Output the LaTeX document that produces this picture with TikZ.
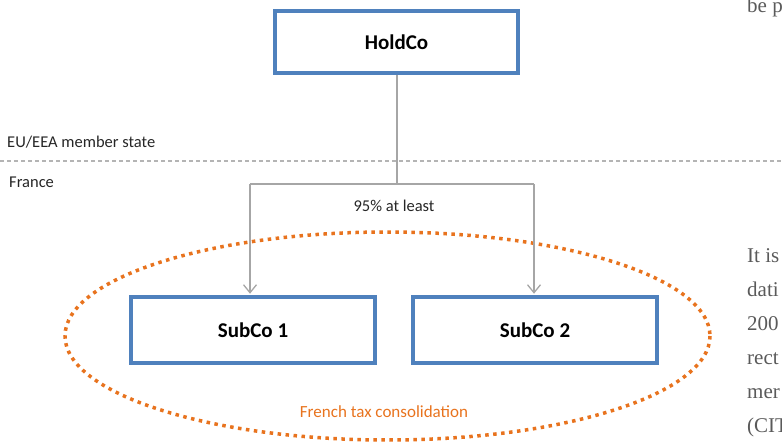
\documentclass[tikz,border=0pt]{standalone}
\usepackage{fontspec}
\setmainfont{Carlito}
\newfontfamily\webserif{Liberation Serif}
\usetikzlibrary{arrows.meta}
\definecolor{boxblue}{HTML}{4F81BD}
\definecolor{linegray}{HTML}{A6A6A6}
\definecolor{dashgray}{HTML}{B4B4B4}
\definecolor{orangedot}{HTML}{E8731E}
\definecolor{webgray}{HTML}{5A5A5A}
\begin{document}
\begin{tikzpicture}[x=1pt,y=-1pt,
  entity/.style={draw=boxblue, line width=3.5pt, fill=white, minimum width=244pt, minimum height=66pt,
    font=\fontsize{21}{24}\selectfont\bfseries, inner sep=0pt},
  link/.style={draw=linegray, line width=1.5pt},
  arr/.style={link, -{Straight Barb[length=8pt,width=13pt,line width=1.3pt]}, shorten >=1.5pt},
  lbl/.style={font=\fontsize{16.5}{20}\selectfont, text=black!85, inner sep=0pt},
  web/.style={font=\webserif\fontsize{21}{24}\selectfont, text=webgray, anchor=base west, inner sep=0pt}]
\useasboundingbox (0,0) rectangle (782,444);
\begin{scope}
\clip (0,0) rectangle (782,444);
% border line between jurisdictions
\coordinate (dl) at (0,161);
\coordinate (dr) at (782,161);
\draw[dashgray, line width=1.5pt, dash pattern=on 4pt off 3pt] (dl) -- (dr);
% consolidation perimeter
\draw[orangedot, line width=3.5pt, dash pattern=on 3.5pt off 4.5pt] (387.5,336) ellipse [x radius=322.5, y radius=104];
% entities
\node[entity, minimum width=243pt, minimum height=62pt] (holdco) at (396.5,42) {HoldCo};
\node[entity] (sub1) at (253,330) {SubCo 1};
\node[entity] (sub2) at (535,330) {SubCo 2};
% connectors
\coordinate (jc) at (397,184);
\coordinate (jl) at (250,184);
\coordinate (jr) at (534,184);
\draw[link] (holdco.south -| jc) -- (jc);
\draw[link] (jl) -- (jr);
\draw[arr] (jl) -- (jl |- sub1.north);
\draw[arr] (jr) -- (jr |- sub2.north);
% labels
\node[lbl, anchor=base west] (eu) at (7,147) {EU/EEA member state};
\node[lbl, anchor=base west] (fr) at (9,187) {France};
\node[lbl, anchor=base] (pct) at (394,211) {95\% at least};
\node[font=\fontsize{17}{20}\selectfont, text=orangedot, anchor=base, inner sep=0pt] (ftc) at (384,417) {French tax consolidation};
% cropped page text on the right
\node[web] (w0) at (747,13) {be p};
\node[web] (w1) at (747,262) {It is};
\node[web] (w2) at (747,296) {dati};
\node[web] (w3) at (747,330) {200};
\node[web] (w4) at (747,364) {rect};
\node[web] (w5) at (747,398) {mer};
\node[web] (w6) at (747,432) {(CIT};
\end{scope}
\end{tikzpicture}
\end{document}
